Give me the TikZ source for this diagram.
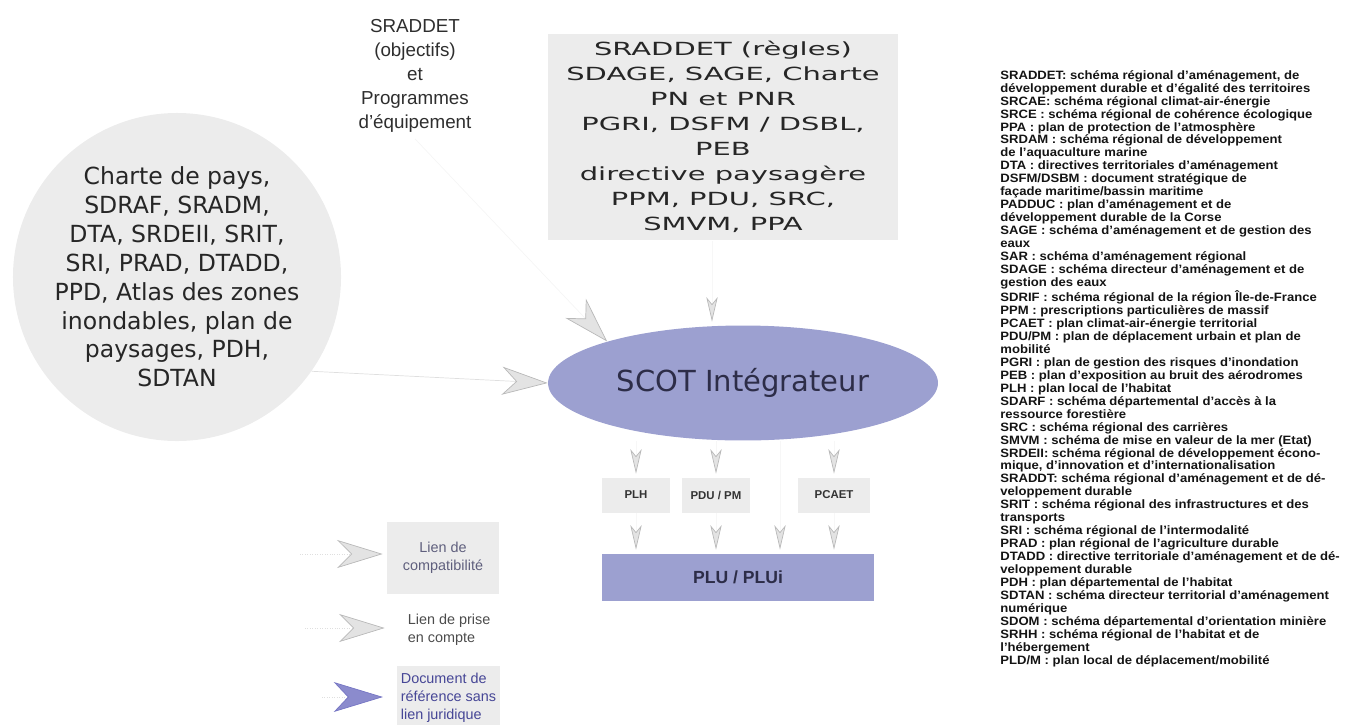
\documentclass[tikz,border=0pt]{standalone}
\usepackage{fontspec}
\setmainfont{Liberation Sans}
\newfontfamily\vera[Ligatures=TeX]{DejaVu Sans}
\newfontfamily\verawide[FakeStretch=1.6,Ligatures=TeX]{DejaVu Sans}
\newfontfamily\glossfont[FakeStretch=1.08,Ligatures=TeX]{Liberation Sans}
\usetikzlibrary{arrows.meta,shapes.geometric,positioning}
\definecolor{scotblue}{RGB}{156,160,208}
\definecolor{scottext}{RGB}{45,45,72}
\definecolor{paper}{RGB}{236,236,236}
\definecolor{legendtext}{RGB}{95,95,125}
\definecolor{legendblue}{RGB}{70,70,150}
\definecolor{tipblue}{RGB}{118,118,196}
\tikzset{
  graybox/.style={
    fill=paper,
    draw=none,
    inner sep=2pt
  },
  bluebox/.style={
    fill=scotblue,
    draw=none,
    text=scottext
  },
  chevron/.style={
    -{Stealth[length=26pt,width=16pt,inset=8pt,color=gray!55,fill=gray!22]},
    draw=gray!25,
    line width=0.4pt
  },
  faint chevron/.style={
    chevron,
    draw=gray!8
  },
  small chevron/.style={
    -{Stealth[length=14pt,width=6.5pt,inset=4pt,color=gray!55,fill=gray!22]},
    draw=gray!6,
    line width=0.4pt,
    shorten >=2pt
  },
  ref chevron/.style={
    -{Stealth[length=28pt,width=17pt,inset=8pt,color=tipblue,fill=tipblue!85]},
    draw=gray!25,
    densely dotted,
    line width=0.4pt
  }
}

\begin{document}
\begin{tikzpicture}[x=0.02cm, y=-0.02cm]
  \useasboundingbox (0,0) rectangle (1346,724);

  % documents de rang superieur
  \node[circle, fill=paper, minimum size=6.4cm, inner sep=0pt, align=center,
        font=\vera\fontsize{13.4}{16.4}\selectfont, text=black!85]
        (pays) at (177,277)
        {Charte de pays,\\SDRAF, SRADM,\\DTA, SRDEII, SRIT,\\SRI, PRAD, DTADD,\\PPD, Atlas des zones\\inondables, plan de\\paysages, PDH,\\SDTAN};
  \node[align=center, font=\fontsize{10.7}{13.7}\selectfont, text=black!82]
        (objectifs) at (415,76)
        {SRADDET\\(objectifs)\\et\\Programmes\\d'équipement};
  \node[graybox, minimum width=7cm, minimum height=4.14cm, align=center,
        font=\verawide\fontsize{10.3}{14.2}\selectfont, text=black!85]
        (regles) at (723,137)
        {SRADDET (règles)\\SDAGE, SAGE, Charte\\PN et PNR\\PGRI, DSFM / DSBL,\\PEB\\directive paysagère\\PPM, PDU, SRC,\\SMVM, PPA};

  % SCOT et documents locaux
  \node[ellipse, bluebox, minimum width=7.8cm, minimum height=2.3cm,
        font=\vera\fontsize{16.5}{19}\selectfont]
        (scot) at (743,383) {SCOT Intégrateur};
  \node[graybox, minimum width=1.36cm, minimum height=0.7cm,
        font=\bfseries\fontsize{6.5}{8}\selectfont, text=black!80]
        (plh) at (636,495) {PLH};
  \node[graybox, minimum width=1.36cm, minimum height=0.7cm,
        font=\bfseries\fontsize{6.5}{8}\selectfont, text=black!80]
        (pdu) at (716,495) {PDU / PM};
  \node[graybox, minimum width=1.44cm, minimum height=0.7cm,
        font=\bfseries\fontsize{6.5}{8}\selectfont, text=black!80]
        (pcaet) at (834,495) {PCAET};
  \node[bluebox, minimum width=5.46cm, minimum height=0.94cm,
        font=\bfseries\fontsize{10}{12}\selectfont]
        (plu) at (738,577) {PLU / PLUi};

  \coordinate (regles foot) at ([xshift=-0.22cm]regles.south);
  \coordinate (scot foot) at ([xshift=0.74cm]scot.south);
  \path (pays.-35)        edge[chevron] (scot.west)
        (objectifs.south) edge[faint chevron] (scot.163)
        (regles foot)     edge[small chevron] (regles foot |- scot.north)
        (scot foot)       edge[small chevron] (scot foot |- plu.north);
  \foreach \doc in {plh,pdu,pcaet}{
    \path (\doc.north |- scot.south) edge[small chevron] (\doc.north)
          (\doc.south) edge[small chevron] (\doc.south |- plu.north);
  }

  % legende
  \node[graybox, minimum width=2.26cm, minimum height=1.44cm, align=center,
        font=\fontsize{8.2}{10.2}\selectfont, text=legendtext]
        (compat) at (443,558) {Lien de\\compatibilité};
  \node[anchor=west, align=left, inner sep=2pt,
        font=\fontsize{8.2}{10.2}\selectfont, text=black!70]
        (prise) at (404,630) {Lien de prise\\en compte};
  \node[graybox, anchor=north west, minimum width=1.9cm, inner ysep=4pt,
        align=left, font=\fontsize{8.2}{10.2}\selectfont, text=legendblue]
        (reference) at (397,666) {Document de\\référence sans\\lien juridique};
  \coordinate (compat tail) at (300,554);
  \coordinate (prise tail) at (305,628);
  \coordinate (reference tail) at (322,697);
  \path (compat tail)    edge[chevron, densely dotted, shorten >=2pt] (compat.west |- compat tail)
        (prise tail)     edge[chevron, densely dotted, shorten >=11pt] (prise.west |- prise tail)
        (reference tail) edge[ref chevron, shorten >=8pt] (reference.west |- reference tail);

  % glossaire
  \node[anchor=north west, align=left, inner sep=0pt, text=black!92,
        font=\glossfont\bfseries\fontsize{6.9}{7.37}\selectfont]
        (glossaire) at (1000,70)
        {SRADDET: schéma régional d'aménagement, de\\
         développement durable et d'égalité des territoires\\
         SRCAE: schéma régional climat-air-énergie\\
         SRCE : schéma régional de cohérence écologique\\
         PPA : plan de protection de l'atmosphère\\
         SRDAM : schéma régional de développement\\
         de l'aquaculture marine\\
         DTA : directives territoriales d'aménagement\\
         DSFM/DSBM : document stratégique de\\
         façade maritime/bassin maritime\\
         PADDUC : plan d'aménagement et de\\
         développement durable de la Corse\\
         SAGE : schéma d'aménagement et de gestion des\\
         eaux\\
         SAR : schéma d'aménagement régional\\
         SDAGE : schéma directeur d'aménagement et de\\
         gestion des eaux\\
         SDRIF : schéma régional de la région Île-de-France\\
         PPM : prescriptions particulières de massif\\
         PCAET : plan climat-air-énergie territorial\\
         PDU/PM : plan de déplacement urbain et plan de\\
         mobilité\\
         PGRI : plan de gestion des risques d'inondation\\
         PEB : plan d'exposition au bruit des aérodromes\\
         PLH : plan local de l'habitat\\
         SDARF : schéma départemental d'accès à la\\
         ressource forestière\\
         SRC : schéma régional des carrières\\
         SMVM : schéma de mise en valeur de la mer (Etat)\\
         SRDEII: schéma régional de développement écono-\\
         mique, d'innovation et d'internationalisation\\
         SRADDT: schéma régional d'aménagement et de dé-\\
         veloppement durable\\
         SRIT : schéma régional des infrastructures et des\\
         transports\\
         SRI : schéma régional de l'intermodalité\\
         PRAD : plan régional de l'agriculture durable\\
         DTADD : directive territoriale d'aménagement et de dé-\\
         veloppement durable\\
         PDH : plan départemental de l'habitat\\
         SDTAN : schéma directeur territorial d'aménagement\\
         numérique\\
         SDOM : schéma départemental d'orientation minière\\
         SRHH : schéma régional de l'habitat et de\\
         l'hébergement\\
         PLD/M : plan local de déplacement/mobilité};
\end{tikzpicture}
\end{document}
